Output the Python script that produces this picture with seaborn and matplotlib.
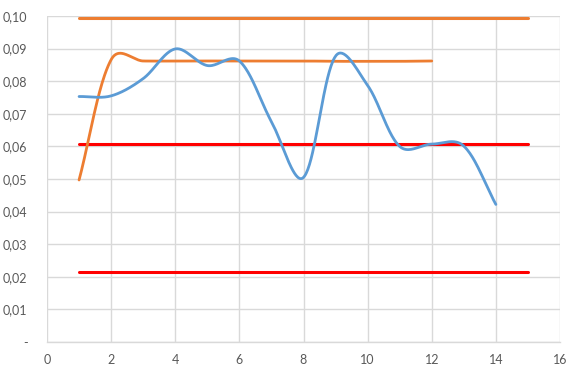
import numpy as np
import pandas as pd
import matplotlib
matplotlib.use("Agg")
import matplotlib.pyplot as plt
import seaborn as sns

# Measured series (x = sample index)
blue_x = [1, 2, 3, 4, 5, 6, 7, 8, 9, 10, 11, 12, 13, 14]
blue_y = [0.0753, 0.0755, 0.0808, 0.0899, 0.0848, 0.0862, 0.0676, 0.0505,
          0.0877, 0.0787, 0.0600, 0.0607, 0.0601, 0.0422]

orange_x = [1, 2, 3, 4, 5, 6, 7, 8, 9, 10, 11, 12]
orange_y = [0.0497, 0.0866, 0.0862, 0.0862, 0.0862, 0.0862, 0.0862, 0.0862,
            0.0861, 0.0861, 0.0861, 0.0862]

# Limit lines
limit_x = [1, 15]
upper_orange = [0.0995, 0.0995]
upper_red = [0.0606, 0.0606]
lower_red = [0.0215, 0.0215]

x_ticks = [0, 2, 4, 6, 8, 10, 12, 14, 16]
y_ticks = [0.0, 0.01, 0.02, 0.03, 0.04, 0.05, 0.06, 0.07, 0.08, 0.09, 0.10]
y_tick_labels = ["-", "0,01", "0,02", "0,03", "0,04", "0,05", "0,06",
                 "0,07", "0,08", "0,09", "0,10"]

# screen scale (pixels per data unit) used for the smoothing geometry
SX = 513 / 16
SY = 326 / 0.10
LENGTH_WEIGHT = 0.4


def smooth(xs, ys, n=40):
    """Smoothed line through the points: cubic Bezier segments with
    Catmull-Rom style control points, partly scaled by segment lengths."""
    p = np.column_stack([np.asarray(xs, float) * SX, np.asarray(ys, float) * SY])
    k = len(p)
    c_out = np.zeros_like(p)
    c_in = np.zeros_like(p)
    for i in range(k):
        if i == 0:
            c_out[i] = p[i] + (p[i + 1] - p[i]) / 3
            continue
        if i == k - 1:
            c_in[i] = p[i] - (p[i] - p[i - 1]) / 3
            continue
        t = p[i + 1] - p[i - 1]
        d0 = np.linalg.norm(p[i] - p[i - 1])
        d1 = np.linalg.norm(p[i + 1] - p[i])
        f_out = (1 - LENGTH_WEIGHT) * 0.5 + LENGTH_WEIGHT * d1 / (d0 + d1)
        f_in = (1 - LENGTH_WEIGHT) * 0.5 + LENGTH_WEIGHT * d0 / (d0 + d1)
        c_out[i] = p[i] + t * f_out / 3
        c_in[i] = p[i] - t * f_in / 3
    segs = []
    tt = np.linspace(0, 1, n, endpoint=False)[:, None]
    for i in range(k - 1):
        b = ((1 - tt) ** 3 * p[i] + 3 * (1 - tt) ** 2 * tt * c_out[i]
             + 3 * (1 - tt) * tt ** 2 * c_in[i + 1] + tt ** 3 * p[i + 1])
        segs.append(b)
    segs.append(p[-1:])
    pts = np.vstack(segs)
    return pts[:, 0] / SX, pts[:, 1] / SY


sns.set_theme(style="white")
plt.rcParams["font.family"] = ["Lato", "DejaVu Sans"]

fig = plt.figure(figsize=(5.68, 3.68), dpi=100)
ax = fig.add_axes([47 / 568, 1 - 342 / 368, (560 - 47) / 568, (342 - 16) / 368])

bx, by = smooth(blue_x, blue_y)
ox, oy = smooth(orange_x, orange_y)

sns.lineplot(x=limit_x, y=upper_orange, ax=ax, color="#ED7D31", linewidth=2.2)
sns.lineplot(x=limit_x, y=upper_red, ax=ax, color="#FF0000", linewidth=2.2)
sns.lineplot(x=limit_x, y=lower_red, ax=ax, color="#FF0000", linewidth=2.2)
sns.lineplot(x=ox, y=oy, ax=ax, color="#ED7D31", linewidth=2.0, sort=False,
             estimator=None)
sns.lineplot(x=bx, y=by, ax=ax, color="#5B9BD5", linewidth=2.0, sort=False,
             estimator=None)

ax.set_xlim(0, 16)
ax.set_ylim(0, 0.10)
ax.set_xticks(x_ticks)
ax.set_xticklabels([str(v) for v in x_ticks])
ax.set_yticks(y_ticks)
ax.set_yticklabels(y_tick_labels)
ax.grid(True, color="#D9D9D9", linewidth=1.0)
ax.set_axisbelow(True)
for side in ("top", "right", "left"):
    ax.spines[side].set_visible(False)
ax.spines["bottom"].set_color("#D9D9D9")
ax.spines["bottom"].set_linewidth(1.0)
ax.tick_params(axis="both", length=0, labelsize=9, labelcolor="#595959")
ax.tick_params(axis="y", pad=14)
ax.tick_params(axis="x", pad=9)

fig.savefig("out.png", dpi=100)
